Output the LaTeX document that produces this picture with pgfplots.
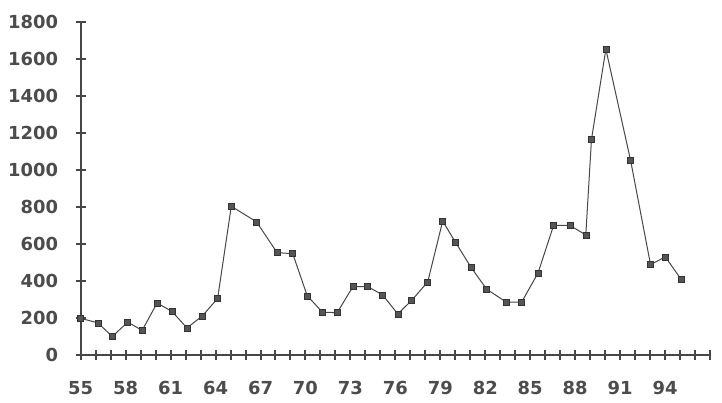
\documentclass[border=0pt]{standalone}
\usepackage{fontspec}
\setmainfont{DejaVu Sans}
\usepackage{pgfplots}
\pgfplotsset{compat=1.18}
\definecolor{mkc}{RGB}{85,85,85}
\begin{document}
\begin{tikzpicture}
\path[use as bounding box] (-80.7bp,-48bp) rectangle (641.3bp,355bp);
\begin{axis}[
  scale only axis,
  width=629.3bp, height=333bp,
  anchor=origin, at={(0,0)},
  xmin=55, xmax=97, ymin=0, ymax=1800,
  axis x line=bottom, axis y line=left,
  axis line style={-, line width=2bp},
  xtick={55,...,97},
  xticklabels={55,,,58,,,61,,,64,,,67,,,70,,,73,,,76,,,79,,,82,,,85,,,88,,,91,,,94,,,},
  ytick={0,200,...,1800},
  tick align=center,
  major tick length=10bp,
  tick style={black!72, line width=2bp},
  /pgf/number format/assume math mode=true,
  /pgf/number format/1000 sep={},
  tick label style={font=\fontsize{18}{20}\selectfont\bfseries, text=black!70, inner sep=0pt},
  yticklabel style={anchor=east, xshift=-17.5bp},
  xticklabel style={anchor=north, yshift=-21bp},
  clip=false,
]
\draw[black!72, line width=2bp] (rel axis cs:0,1) -- (rel axis cs:0,0) -- (rel axis cs:1,0);
\addplot[black!72, line width=1.0bp, mark=square*, mark size=3bp,
  mark options={fill=mkc, draw=black!80, line width=0.5bp}] coordinates {
(55.00,198) (56.14,174) (57.11,100) (58.14,178) (59.10,133) (60.10,281)
(61.10,235) (62.09,146) (63.13,212) (64.14,306) (65.05,804) (66.73,720)
(68.11,553) (69.15,548) (70.12,320) (71.14,231) (72.12,229) (73.17,370)
(74.15,370) (75.15,325) (76.16,222) (77.09,295) (78.16,395) (79.16,724)
(80.02,608) (81.06,473) (82.09,356) (83.40,286) (84.43,286) (85.52,443)
(86.56,700) (87.66,700) (88.71,649) (89.09,1166) (90.05,1653) (91.70,1052)
(93.03,489) (94.02,530) (95.09,407)
};
\end{axis}
\end{tikzpicture}
\end{document}
